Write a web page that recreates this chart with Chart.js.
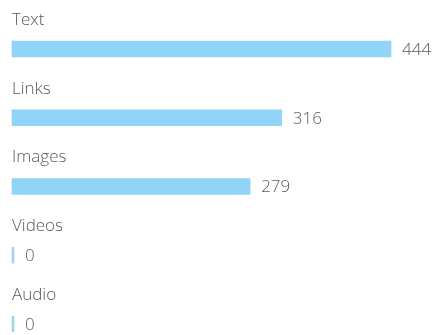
<!DOCTYPE html>
<html>
<head>
<meta charset="utf-8">
<script src="https://cdn.jsdelivr.net/npm/chart.js@4"></script>
<style>
  html, body { margin: 0; padding: 0; background: #fff; }
  #wrap { width: 437px; height: 335px; }
</style>
</head>
<body>
<div id="wrap"><canvas id="content-chart" width="437" height="335"></canvas></div>
<script>
const categories = ['Text', 'Links', 'Images', 'Videos', 'Audio'];
const counts = [444, 316, 279, 0, 0];

const FONT = '"Open Sans", "Noto Sans", sans-serif';
const TEXT_COLOR = '#5a5a5a';

// label above each bar, count to the right of it
const barLabels = {
    id: 'barLabels',
    afterDatasetsDraw(chart) {
        const ctx = chart.ctx;
        const meta = chart.getDatasetMeta(0);
        ctx.save();
        ctx.fillStyle = TEXT_COLOR;
        ctx.textBaseline = 'middle';
        ctx.textAlign = 'left';
        ctx.font = '300 17px ' + FONT;
        meta.data.forEach(function (bar, i) {
            ctx.fillText(categories[i], chart.chartArea.left, bar.y - 29);
            ctx.fillText(String(counts[i]), bar.x + 11, bar.y + 1);
        });
        ctx.restore();
    }
};

const ctx = document.getElementById('content-chart').getContext('2d');
const contentChart = new Chart(ctx, {
    type: 'bar',
    data: {
        labels: categories,
        datasets: [{
            data: counts,
            // empty categories only get a thin marker
            backgroundColor: function (c) {
                return counts[c.dataIndex] === 0 ? '#a3d3ea' : '#90d5f8';
            },
            borderWidth: 0,
            borderRadius: 1,
            barThickness: 16,
            minBarLength: 2,
            clip: false
        }]
    },
    options: {
        indexAxis: 'y',
        responsive: false,
        animation: false,
        layout: {
            padding: { left: 12, right: 46, top: 49, bottom: 11 }
        },
        plugins: {
            legend: { display: false },
            tooltip: { enabled: false }
        },
        scales: {
            x: { display: false, min: 0, max: 444 },
            y: { display: false, offset: false }
        }
    },
    plugins: [barLabels]
});
</script>
</body>
</html>
